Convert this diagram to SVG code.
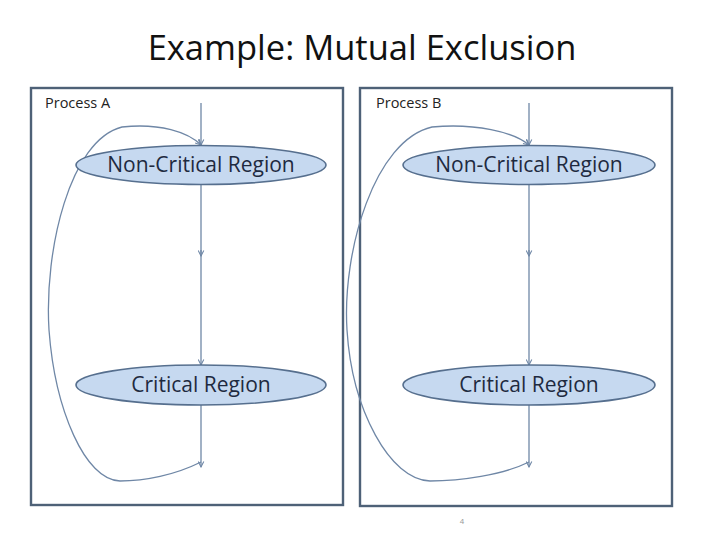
<svg xmlns="http://www.w3.org/2000/svg" width="720" height="539" viewBox="0 0 720 539">
<defs>
<marker id="arr" viewBox="0 0 10 10" refX="9" refY="5" markerWidth="7" markerHeight="7" orient="auto" markerUnits="userSpaceOnUse">
<path d="M1,1 L9,5 L1,9" fill="none" stroke="#6f87a6" stroke-width="1.5"/>
</marker>
</defs>
<style>
.box{fill:#fff;stroke:#4e6177;stroke-width:2.4}
.ell{fill:#c6d9f0;stroke:#566f8e;stroke-width:1.6}
.lbl{font-family:"Open Sans","Liberation Sans",sans-serif;font-size:21px;fill:#1e2a40;text-anchor:middle}
.plbl{font-family:"Open Sans","Liberation Sans",sans-serif;font-size:14.5px;fill:#222}
.con{fill:none;stroke:#6f87a6;stroke-width:1.3}
</style>
<rect width="720" height="539" fill="#fff"/>
<text x="362" y="60" font-family="Open Sans, Liberation Sans, sans-serif" font-size="34.5" fill="#111" text-anchor="middle">Example: Mutual Exclusion</text>
<g id="processA">
<rect class="box" x="31" y="88" width="312" height="417"/>
<text class="plbl" x="45" y="108">Process A</text>
</g>
<g id="processB">
<rect class="box" x="360" y="88" width="312" height="418"/>
<text class="plbl" x="376" y="108">Process B</text>
</g>
<g id="connectors">
<path class="con" d="M201,103 L201,145" marker-end="url(#arr)"/>
<path class="con" d="M201,184 L201,256" marker-end="url(#arr)"/>
<path class="con" d="M201,250 L201,365" marker-end="url(#arr)"/>
<path class="con" d="M201,405 L201,467" marker-end="url(#arr)"/>
<path class="con" d="M201,462 C175,475 145,481 120,481 C85,480 55,410 49,330 C44,250 70,140 122,127 C160,123 188,132 201,145" marker-end="url(#arr)"/>
<path class="con" d="M529,103 L529,145" marker-end="url(#arr)"/>
<path class="con" d="M529,184 L529,256" marker-end="url(#arr)"/>
<path class="con" d="M529,250 L529,365" marker-end="url(#arr)"/>
<path class="con" d="M529,405 L529,467" marker-end="url(#arr)"/>
<path class="con" d="M529,462 C503,475 460,481 430,481 C390,480 352,410 347,330 C342,250 375,140 432,127 C475,123 514,132 529,145" marker-end="url(#arr)"/>
</g>
<g id="ncrA">
<ellipse class="ell" cx="201" cy="165" rx="125" ry="19.5"/>
<text class="lbl" x="201" y="172">Non-Critical Region</text>
</g>
<g id="crA">
<ellipse class="ell" cx="201" cy="385" rx="125" ry="20"/>
<text class="lbl" x="201" y="392">Critical Region</text>
</g>
<g id="ncrB">
<ellipse class="ell" cx="529" cy="165" rx="126" ry="19.5"/>
<text class="lbl" x="529" y="172">Non-Critical Region</text>
</g>
<g id="crB">
<ellipse class="ell" cx="529" cy="385" rx="126" ry="20"/>
<text class="lbl" x="529" y="392">Critical Region</text>
</g>
<text x="462" y="524" font-family="Liberation Sans, sans-serif" font-size="8" fill="#999" text-anchor="middle">4</text>
</svg>
